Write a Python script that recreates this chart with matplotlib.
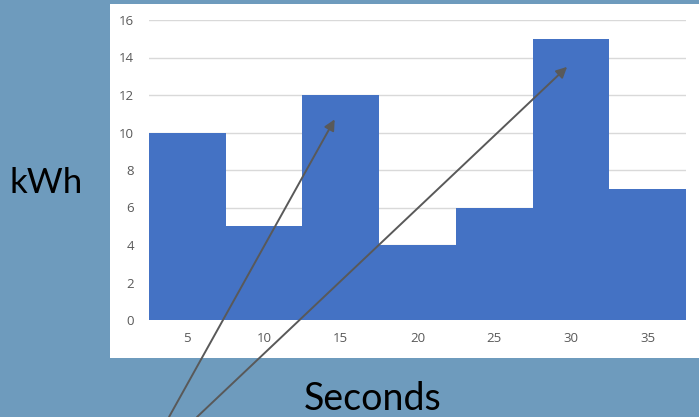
import numpy as np
import matplotlib.pyplot as plt
from matplotlib.patches import Rectangle

# energy per time bin
seconds = [5, 10, 15, 20, 25, 30, 35]
kwh = [10, 5, 12, 4, 6, 15, 7]
y_ticks = [0, 2, 4, 6, 8, 10, 12, 14, 16]

W, H = 699, 417
bg = '#6e9bbd'
bar_color = '#4472c4'
grid_color = '#d9d9d9'
tick_color = '#595959'
arrow_color = '#595959'

fig = plt.figure(figsize=(W / 100, H / 100), dpi=100, facecolor=bg)

# white chart panel
panel = Rectangle((110 / W, (H - 358) / H), (W - 110) / W, (358 - 4) / H,
                  transform=fig.transFigure, facecolor='white', edgecolor='none', zorder=-1)
fig.patches.append(panel)

ax = fig.add_axes([149 / W, (H - 320) / H, (686 - 149) / W, 300 / H])
ax.set_zorder(1)
ax.set_facecolor('none')
ax.bar(seconds, kwh, width=5, color=bar_color, zorder=2)
ax.set_xlim(2.5, 37.5)
ax.set_ylim(0, 16)
ax.set_xticks(seconds)
ax.set_yticks(y_ticks)
for y in y_ticks:
    ax.axhline(y, color=grid_color, lw=1, zorder=1)
for s in ax.spines.values():
    s.set_visible(False)
ax.tick_params(length=0, colors=tick_color, labelsize=9.5)
ax.tick_params(axis='y', pad=11)
ax.tick_params(axis='x', pad=9)
for lab in ax.get_xticklabels() + ax.get_yticklabels():
    lab.set_family('Open Sans')

fig.text(46 / W, 1 - 183 / H, 'kWh', ha='center', va='center',
         fontsize=25, family='Lato', color='black')
fig.text(373 / W, 1 - 399 / H, 'Seconds', ha='center', va='center',
         fontsize=27, family='Lato', color='black')

# pointer arrows from below the chart
arrows = [((169 / W, 0.0), (14.6, 10.7)), ((197 / W, 0.0), (29.75, 13.5))]
for tail, tip in arrows:
    ax.annotate('', xy=tip, xycoords='data', xytext=tail, textcoords='figure fraction',
                annotation_clip=False,
                arrowprops=dict(arrowstyle='-|>', color=arrow_color, lw=1.4,
                                mutation_scale=16, shrinkA=0, shrinkB=0), zorder=5)

fig.savefig('out.png', dpi=100, facecolor=bg)
